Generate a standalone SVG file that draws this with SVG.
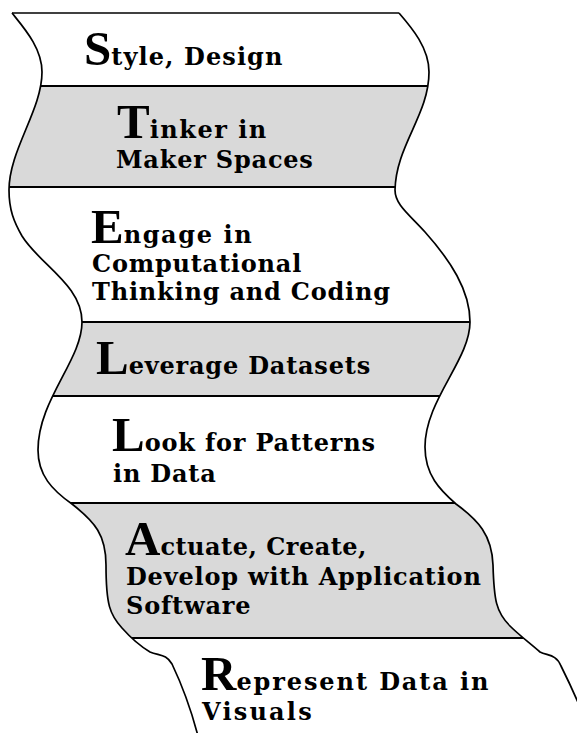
<svg xmlns="http://www.w3.org/2000/svg" width="577" height="733" viewBox="0 0 577 733">
  <style>
    .edge { fill: none; stroke: #000; stroke-width: 1.7; stroke-linejoin: round; }
    .divider { stroke: #000; stroke-width: 1.8; }
    .shade { fill: #d9d9d9; }
    .label { font-family: "DejaVu Serif", "Liberation Serif", serif; font-weight: bold; font-size: 24px; letter-spacing: 0.8px; fill: #000; }
    .cap { font-family: "Liberation Serif", "DejaVu Serif", serif; font-size: 49px; letter-spacing: 0; }
  </style>
  <defs>
    <!-- the whole wavy ribbon: top edge, right edge down, left edge back up -->
    <path id="ribbon" d="M12,13 L399,13
      C412,28 429,48 429,72 C429,115 396,145 395,190
      C395,205 410,215 425,232 C450,260 470,290 470,322
      C470,360 425,400 425,447 C425,475 440,490 456,504
      C478,520 492,535 493,565 C494,600 496,612 510,626
      C520,636 530,643 540,652 C548,656 556,654 561,666
      C568,680 575,695 582,712 L600,740 L199,740
      C192,712 182,685 172,664 C166,654 160,656 150,652
      C140,646 130,637 122,628 C110,615 106,605 106,565
      C106,535 95,522 72,504 C52,490 38,475 38,450
      C38,400 82,360 82,322 C82,285 40,265 22,236
      C14,222 9,210 9,190 C9,150 42,110 42,72
      C42,48 24,28 12,13 Z"/>
    <clipPath id="ribbon-clip">
      <use href="#ribbon"/>
    </clipPath>
  </defs>

  <rect width="577" height="733" fill="#fff"/>
  <use href="#ribbon" fill="#fff"/>

  <!-- bands, top to bottom -->
  <g id="style-design">
    <text class="label" x="84" y="65" style="letter-spacing:1.1px"><tspan class="cap">S</tspan>tyle, Design</text>
  </g>

  <g id="tinker">
    <rect class="shade" x="0" y="86" width="577" height="101" clip-path="url(#ribbon-clip)"/>
    <text class="label" x="117" y="138" style="letter-spacing:1.5px"><tspan class="cap">T</tspan>inker in</text>
    <text class="label" x="116" y="168">Maker Spaces</text>
  </g>

  <g id="engage">
    <text class="label" x="91" y="243" style="letter-spacing:1.6px"><tspan class="cap">E</tspan>ngage in</text>
    <text class="label" x="92" y="272">Computational</text>
    <text class="label" x="92" y="300">Thinking and Coding</text>
  </g>

  <g id="leverage">
    <rect class="shade" x="0" y="322" width="577" height="74" clip-path="url(#ribbon-clip)"/>
    <text class="label" x="96" y="374"><tspan class="cap">L</tspan>everage Datasets</text>
  </g>

  <g id="look">
    <text class="label" x="112" y="451"><tspan class="cap">L</tspan>ook for Patterns</text>
    <text class="label" x="113" y="482">in Data</text>
  </g>

  <g id="actuate">
    <rect class="shade" x="0" y="503" width="577" height="135" clip-path="url(#ribbon-clip)"/>
    <text class="label" x="125" y="555" style="letter-spacing:0.5px"><tspan class="cap">A</tspan>ctuate, Create,</text>
    <text class="label" x="126" y="585">Develop with Application</text>
    <text class="label" x="126" y="614">Software</text>
  </g>

  <g id="represent">
    <text class="label" x="201" y="690" style="letter-spacing:1.9px"><tspan class="cap">R</tspan>epresent Data in</text>
    <text class="label" x="202" y="720" style="letter-spacing:2.2px">Visuals</text>
  </g>

  <!-- band borders and ribbon outline -->
  <g id="connectors">
    <g clip-path="url(#ribbon-clip)">
      <line class="divider" x1="0" y1="86" x2="577" y2="86"/>
      <line class="divider" x1="0" y1="187" x2="577" y2="187"/>
      <line class="divider" x1="0" y1="322" x2="577" y2="322"/>
      <line class="divider" x1="0" y1="396" x2="577" y2="396"/>
      <line class="divider" x1="0" y1="503" x2="577" y2="503"/>
      <line class="divider" x1="0" y1="638" x2="577" y2="638"/>
    </g>
    <path class="edge" d="M12,13 L399,13"/>
    <path class="edge" d="M399,13
      C412,28 429,48 429,72 C429,115 396,145 395,190
      C395,205 410,215 425,232 C450,260 470,290 470,322
      C470,360 425,400 425,447 C425,475 440,490 456,504
      C478,520 492,535 493,565 C494,600 496,612 510,626
      C520,636 530,643 540,652 C548,656 556,654 561,666
      C568,680 575,695 582,712"/>
    <path class="edge" d="M12,13
      C24,28 42,48 42,72 C42,110 9,150 9,190
      C9,210 14,222 22,236 C40,265 82,285 82,322
      C82,360 38,400 38,450 C38,475 52,490 72,504
      C95,522 106,535 106,565 C106,605 110,615 122,628
      C130,637 140,646 150,652 C160,656 166,654 172,664
      C182,685 192,712 199,740"/>
  </g>
</svg>
